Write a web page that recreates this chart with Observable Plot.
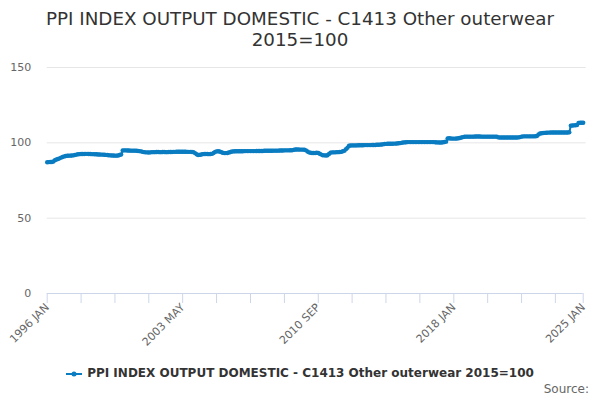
<!DOCTYPE html>
<html><head><meta charset="utf-8">
<script src="https://cdn.jsdelivr.net/npm/d3@7"></script>
<script src="https://cdn.jsdelivr.net/npm/@observablehq/plot@0.6"></script>
<style>
body{margin:0;background:#fff;font-family:"DejaVu Sans",sans-serif;}
#wrap{position:relative;width:600px;height:400px;overflow:hidden;}
#title{position:absolute;top:8px;left:0;width:600px;text-align:center;font-size:18.3px;line-height:21px;color:#333;}
#chart{position:absolute;top:55px;left:0;}
#legend{position:absolute;top:366px;left:0;width:600px;text-align:center;font-size:12px;font-weight:bold;color:#333;white-space:nowrap;}
#legend svg{vertical-align:middle;margin-right:5px;}
#source{position:absolute;top:382px;right:11px;font-size:12px;color:#666;}
</style></head>
<body><div id="wrap">
<div id="title">PPI INDEX OUTPUT DOMESTIC - C1413 Other outerwear<br>2015=100</div>
<div id="chart"></div>
<div id="legend"><svg width="16" height="10"><line x1="0" y1="5" x2="16" y2="5" stroke="#0a7cc1" stroke-width="2"/><circle cx="8" cy="5" r="2.5" fill="#0a7cc1"/></svg>PPI INDEX OUTPUT DOMESTIC - C1413 Other outerwear 2015=100</div>
<div id="source">Source:</div>
</div>
<script>
const seriesName = "PPI INDEX OUTPUT DOMESTIC - C1413 Other outerwear 2015=100";
const startYear = 1996;
// monthly values, Jan 1996 .. Jan 2025
const values = [
  87.1,87.2,87.3,87.3,87.6,88.4,88.9,89.3,89.7,90.2,90.6,91.0,   // 1996
  91.3,91.4,91.5,91.5,91.6,91.7,91.9,92.2,92.4,92.5,92.6,92.6,   // 1997
  92.6,92.7,92.7,92.6,92.6,92.5,92.5,92.4,92.4,92.3,92.3,92.2,   // 1998
  92.2,92.1,92.0,91.9,91.8,91.7,91.6,91.6,91.5,91.5,91.6,91.9,   // 1999
  92.3,94.9,95.0,95.0,94.9,94.9,94.8,94.8,94.8,94.8,94.7,94.6,   // 2000
  94.5,94.3,94.0,93.8,93.7,93.7,93.6,93.7,93.8,93.8,93.8,93.9,   // 2001
  93.9,93.8,93.8,93.9,93.9,93.8,93.8,93.9,93.9,93.9,94.0,94.0,   // 2002
  94.1,94.1,94.1,94.1,94.1,94.1,94.1,94.0,94.0,94.0,93.9,93.8,   // 2003
  93.2,92.4,91.9,92.0,92.3,92.5,92.6,92.6,92.6,92.5,92.6,92.7,   // 2004
  93.3,94.0,94.3,94.4,94.2,93.8,93.4,93.2,93.2,93.3,93.6,93.9,   // 2005
  94.2,94.3,94.4,94.4,94.4,94.4,94.4,94.4,94.5,94.5,94.5,94.5,   // 2006
  94.5,94.5,94.5,94.5,94.6,94.6,94.6,94.6,94.6,94.7,94.7,94.7,   // 2007
  94.7,94.7,94.7,94.8,94.8,94.8,94.8,94.9,94.9,94.9,95.0,95.0,   // 2008
  95.0,95.0,95.1,95.1,95.3,95.6,95.6,95.6,95.5,95.5,95.5,95.4,   // 2009
  95.0,94.2,93.7,93.4,93.3,93.3,93.3,93.4,93.3,92.8,92.2,91.8,   // 2010
  91.7,91.6,91.8,92.6,93.5,93.7,93.7,93.7,93.8,93.8,93.9,94.0,   // 2011
  94.4,94.8,95.8,96.8,98.1,98.2,98.3,98.3,98.3,98.3,98.4,98.4,   // 2012
  98.4,98.4,98.5,98.5,98.5,98.5,98.5,98.6,98.6,98.6,98.7,98.7,   // 2013
  98.8,98.9,99.0,99.2,99.3,99.4,99.4,99.4,99.4,99.5,99.5,99.6,   // 2014
  99.7,99.8,100.0,100.2,100.3,100.4,100.5,100.5,100.5,100.5,100.5,100.5, // 2015
  100.5,100.5,100.5,100.5,100.5,100.5,100.5,100.5,100.5,100.5,100.5,100.5, // 2016
  100.4,100.3,100.3,100.2,100.2,100.4,100.6,100.8,102.9,103.0,102.9,102.8, // 2017
  102.8,102.8,102.9,103.0,103.2,103.5,103.8,104.0,104.1,104.1,104.1,104.1, // 2018
  104.1,104.1,104.2,104.2,104.2,104.2,104.1,104.1,104.1,104.1,104.1,104.1, // 2019
  104.1,104.1,104.1,104.1,104.1,103.6,103.5,103.5,103.5,103.5,103.5,103.5, // 2020
  103.5,103.5,103.5,103.5,103.5,103.5,103.6,103.8,104.1,104.3,104.3,104.3, // 2021
  104.3,104.3,104.3,104.3,104.3,104.4,104.5,105.5,106.2,106.4,106.5,106.6, // 2022
  106.7,106.8,106.8,106.9,106.9,106.9,106.9,106.9,106.9,106.9,106.9,106.9, // 2023
  106.9,106.9,106.9,107.0,111.4,111.5,111.6,111.7,111.8,113.2,113.3,113.3, // 2024
  113.3                                                            // 2025
];
const tickMonths = ["1996-01","1997-11","1999-09","2001-07","2003-05","2005-03","2007-01","2008-11",
  "2010-09","2012-07","2014-05","2016-03","2018-01","2019-11","2021-09","2023-07","2025-01"];
const labeledMonths = ["1996-01","2003-05","2010-09","2018-01","2025-01"];
const monthNames = ["JAN","FEB","MAR","APR","MAY","JUN","JUL","AUG","SEP","OCT","NOV","DEC"];
const yTicks = [0, 50, 100, 150];

const parse = s => { const [y, m] = s.split("-").map(Number); return new Date(Date.UTC(y, m - 1, 1)); };
const data = values.map((v, i) => ({date: new Date(Date.UTC(startYear, i, 1)), value: v}));
const tickDates = tickMonths.map(parse);
const labeledSet = new Set(labeledMonths.map(s => +parse(s)));
const fmt = d => labeledSet.has(+d) ? `${d.getUTCFullYear()} ${monthNames[d.getUTCMonth()]}` : "";

const color = "#0a7cc1";
const chart = Plot.plot({
  width: 600,
  height: 300,
  marginLeft: 46.7,
  marginRight: 17.3,
  marginTop: 12,
  marginBottom: 62,
  style: {fontFamily: "DejaVu Sans, sans-serif", fontSize: "11px", background: "#fff"},
  x: {type: "utc", domain: [data[0].date, data[data.length - 1].date]},
  y: {domain: [0, 150]},
  marks: [
    Plot.ruleY(yTicks.filter(d => d > 0), {stroke: "#e6e6e6", strokeWidth: 1, insetRight: -3}),
    Plot.ruleY([0], {stroke: "#ccd6eb", strokeWidth: 1}),
    Plot.axisY({ticks: yTicks, tickSize: 0, tickPadding: 16, fill: "#666", label: null}),
    Plot.axisX({ticks: tickDates, tickFormat: fmt, tickSize: 10, tickPadding: 2, tickRotate: -45,
      stroke: "#ccd6eb", fill: "#666", label: null}),
    Plot.line(data, {x: "date", y: "value", stroke: color, strokeWidth: 2}),
    Plot.dot(data, {x: "date", y: "value", fill: color, r: 2.2, stroke: "none"})
  ]
});
document.getElementById("chart").appendChild(chart);
</script>
</body></html>
